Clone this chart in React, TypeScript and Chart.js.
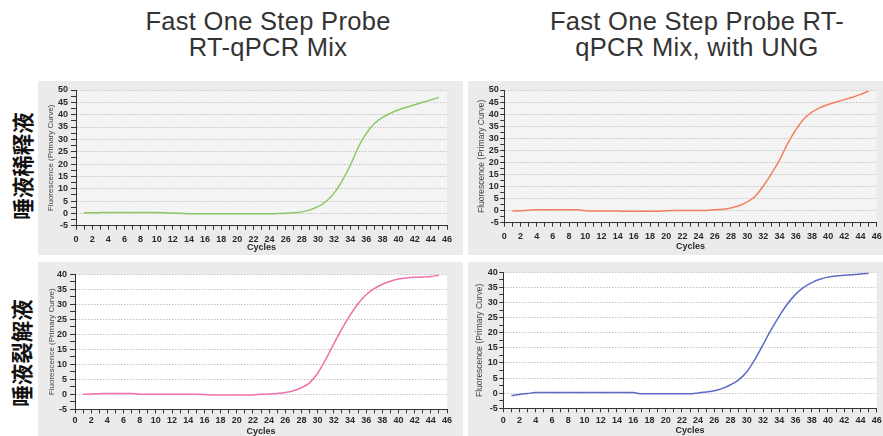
import React, { useEffect, useRef } from 'react';
import { Chart, registerables } from 'chart.js';

Chart.register(...registerables);

// ---------- data ----------
const cycles: number[] = [
  1, 2, 3, 4, 5, 6, 7, 8, 9, 10, 11, 12, 13, 14, 15, 16, 17, 18, 19, 20, 21, 22, 23,
  24, 25, 26, 27, 28, 29, 30, 31, 32, 33, 34, 35, 36, 37, 38, 39, 40, 41, 42, 43, 44, 45,
];

// Saliva dilution, standard mix (green)
const dilutionStandard: number[] = [
  0.2, 0.2, 0.3, 0.4, 0.4, 0.4, 0.4, 0.4, 0.4, 0.3, 0.2, 0.1, 0.0, -0.2, -0.2, -0.2, -0.2,
  -0.2, -0.2, -0.2, -0.2, -0.2, -0.2, -0.2, -0.1, 0.0, 0.2, 0.6, 1.4, 2.7, 4.8, 8.2, 13.2,
  19.4, 26.8, 32.4, 36.4, 38.9, 40.6, 42.0, 43.0, 44.0, 45.0, 46.0, 47.0,
];

// Saliva dilution, mix with UNG (orange)
const dilutionUNG: number[] = [
  -0.2, 0.0, 0.2, 0.4, 0.4, 0.4, 0.4, 0.4, 0.4, 0.0, -0.1, -0.1, -0.1, -0.2, -0.3, -0.3,
  -0.3, -0.3, -0.3, 0.0, 0.1, 0.1, 0.1, 0.1, 0.1, 0.4, 0.6, 1.1, 2.0, 3.6, 6.0, 10.2, 15.3,
  21.0, 27.8, 33.5, 38.0, 40.8, 42.7, 44.0, 45.0, 46.0, 47.0, 48.2, 49.5,
];

// Saliva lysis, standard mix (pink)
const lysisStandard: number[] = [
  0.0, 0.1, 0.2, 0.3, 0.3, 0.3, 0.3, 0.0, 0.0, 0.0, 0.0, 0.0, 0.0, 0.0, 0.0, -0.1, -0.2,
  -0.2, -0.2, -0.2, -0.2, -0.2, 0.0, 0.1, 0.3, 0.6, 1.2, 2.2, 3.8, 7.0, 11.6, 16.8, 21.8,
  26.3, 30.2, 33.2, 35.2, 36.7, 37.7, 38.4, 38.8, 39.0, 39.1, 39.3, 39.7,
];

// Saliva lysis, mix with UNG (blue)
const lysisUNG: number[] = [
  -0.8, -0.4, -0.1, 0.2, 0.2, 0.2, 0.2, 0.2, 0.2, 0.2, 0.2, 0.2, 0.2, 0.2, 0.2, 0.2, -0.2,
  -0.2, -0.2, -0.2, -0.2, -0.2, -0.2, 0.1, 0.4, 0.8, 1.6, 2.8, 4.4, 7.1, 11.2, 16.1, 21.0,
  25.5, 29.5, 32.7, 35.0, 36.6, 37.7, 38.4, 38.8, 39.0, 39.2, 39.4, 39.7,
];

const columnTitles: string[][] = [
  ['Fast One Step Probe', 'RT-qPCR Mix'],
  ['Fast One Step Probe RT-', 'qPCR Mix, with UNG'],
];
const rowLabels: string[] = ['唾液稀释液', '唾液裂解液'];
const xAxisTitle = 'Cycles';
const yAxisTitle = 'Fluorescence (Primary Curve)';
const xRange = [0, 46];
const yMin = -5;
const yMaxTop = 50;
const yMaxBottom = 40;

// ---------- layout ----------
type PanelSpec = {
  left: number; top: number; width: number; height: number;
  yWidth: number; padTop: number; padRight: number; xHeight: number;
  yMax: number; values: number[]; color: string; plotBg: string;
  yTitlePad: number; yTitleSize: number; yTickLen: number; yTickPad: number;
  xTickPad: number; xTitlePad: number;
};

const panels: PanelSpec[] = [
  {
    left: 38, top: 81, width: 425, height: 174, yWidth: 38, padTop: 9, padRight: 16, xHeight: 29.3,
    yMax: yMaxTop, values: dilutionStandard, color: '#8cc862', plotBg: '#f4f4f4',
    yTitlePad: 8.4, yTitleSize: 8, yTickLen: 5, yTickPad: 3, xTickPad: 4, xTitlePad: 1.6,
  },
  {
    left: 468, top: 81, width: 415, height: 174, yWidth: 36.3, padTop: 9, padRight: 6.3, xHeight: 32.3,
    yMax: yMaxTop, values: dilutionUNG, color: '#f2805f', plotBg: '#f4f4f4',
    yTitlePad: 9, yTitleSize: 8.5, yTickLen: 4, yTickPad: 1.5, xTickPad: 4.6, xTitlePad: 2.9,
  },
  {
    left: 38, top: 262, width: 425, height: 174, yWidth: 37, padTop: 12.3, padRight: 16, xHeight: 26.7,
    yMax: yMaxBottom, values: lysisStandard, color: '#ef70aa', plotBg: '#ffffff',
    yTitlePad: 8.9, yTitleSize: 8, yTickLen: 5, yTickPad: 3, xTickPad: 2, xTitlePad: -1.1,
  },
  {
    left: 468, top: 262, width: 415, height: 174, yWidth: 35.3, padTop: 10.3, padRight: 6.3, xHeight: 27.7,
    yMax: yMaxBottom, values: lysisUNG, color: '#5b6cc4', plotBg: '#ffffff',
    yTitlePad: 6.9, yTitleSize: 8.5, yTickLen: 4, yTickPad: 1.5, xTickPad: 3, xTitlePad: -0.4,
  },
];

const FONT = "'Liberation Sans', Arial, sans-serif";

function Panel({ spec }: { spec: PanelSpec }) {
  const ref = useRef<HTMLCanvasElement>(null);
  useEffect(() => {
    const s = spec;
    const plotBgPlugin = {
      id: 'plotBg',
      beforeDraw(chart: any) {
        const { ctx, chartArea: a } = chart;
        ctx.save();
        ctx.fillStyle = s.plotBg;
        ctx.fillRect(a.left, a.top, a.right - a.left, a.bottom - a.top);
        ctx.restore();
      },
    };
    const tickFont = { family: FONT, size: 9, weight: 'bold' as const, lineHeight: 1.2 };
    const chart = new Chart(ref.current as HTMLCanvasElement, {
      type: 'line',
      data: {
        datasets: [
          {
            data: cycles.map((c, i) => ({ x: c, y: s.values[i] })),
            borderColor: s.color,
            borderWidth: 1.5,
            pointRadius: 0,
            cubicInterpolationMode: 'monotone',
            fill: false,
          },
        ],
      },
      options: {
        animation: false,
        responsive: false,
        maintainAspectRatio: false,
        devicePixelRatio: 1,
        events: [],
        layout: { padding: { left: 0, top: s.padTop, right: s.padRight, bottom: 0 } },
        plugins: { legend: { display: false }, tooltip: { enabled: false } },
        scales: {
          x: {
            type: 'linear',
            min: xRange[0],
            max: xRange[1],
            ticks: {
              stepSize: 1,
              autoSkip: false,
              maxRotation: 0,
              minRotation: 0,
              padding: s.xTickPad,
              color: '#2a2a2a',
              font: tickFont,
              callback: (v: any) => (Number(v) % 2 === 0 ? String(v) : ''),
            },
            grid: {
              drawOnChartArea: false,
              drawTicks: true,
              tickLength: 4,
              tickColor: '#333333',
              tickWidth: 1,
            },
            border: { display: true, color: '#333333', width: 1 },
            title: {
              display: true,
              text: xAxisTitle,
              color: '#2a2a2a',
              font: { family: FONT, size: 9, weight: 'bold', lineHeight: 1.2 },
              padding: { top: 0, bottom: s.xTitlePad },
            },
            afterFit: (scale: any) => {
              scale.height = s.xHeight;
              scale.paddingLeft = 0;
              scale.paddingRight = 0;
            },
          },
          y: {
            type: 'linear',
            min: yMin,
            max: s.yMax,
            ticks: {
              stepSize: 2.5,
              autoSkip: false,
              padding: s.yTickPad,
              color: '#2a2a2a',
              font: tickFont,
              callback: (v: any) => (Number(v) % 5 === 0 ? String(v) : ''),
            },
            grid: {
              drawOnChartArea: true,
              drawTicks: true,
              tickLength: s.yTickLen,
              color: (ctx: any) =>
                ctx.tick && ctx.tick.value % 5 === 0 && ctx.tick.value > yMin ? '#c4c4c4' : 'rgba(0,0,0,0)',
              tickColor: '#333333',
              lineWidth: 1,
            },
            border: { display: true, color: '#333333', width: 1, dash: [1.5, 1.5] },
            title: {
              display: true,
              text: yAxisTitle,
              color: '#444444',
              font: { family: FONT, size: s.yTitleSize, weight: 'normal', lineHeight: 1.2 },
              padding: { top: s.yTitlePad, bottom: 0 },
            },
            afterFit: (scale: any) => {
              scale.width = s.yWidth;
              scale.paddingTop = 0;
              scale.paddingBottom = 0;
            },
          },
        },
      } as any,
      plugins: [plotBgPlugin],
    });
    return () => chart.destroy();
  }, [spec]);

  return (
    <div
      style={{
        position: 'absolute',
        left: spec.left,
        top: spec.top,
        width: spec.width,
        height: spec.height,
        background: '#ebebeb',
      }}
    >
      <canvas
        ref={ref}
        width={spec.width}
        height={spec.height}
        style={{ display: 'block', width: spec.width, height: spec.height }}
      />
    </div>
  );
}

const titleCenters = [268, 697];
const rowCenters = [
  { x: 21.5, y: 165.5 },
  { x: 20.5, y: 352.5 },
];

export default function App() {
  return (
    <div
      style={{
        position: 'absolute',
        left: 0,
        top: 0,
        width: 883,
        height: 436,
        background: '#ffffff',
        overflow: 'hidden',
      }}
    >
      {columnTitles.map((lines, i) => (
        <div
          key={'t' + i}
          style={{
            position: 'absolute',
            left: titleCenters[i] - 200,
            top: 8,
            width: 400,
            textAlign: 'center',
            fontFamily: FONT,
            fontSize: 25.5,
            letterSpacing: '0.3px',
            lineHeight: '26px',
            color: '#333333',
            whiteSpace: 'nowrap',
          }}
        >
          {lines.map((l, j) => (
            <div key={j}>{l}</div>
          ))}
        </div>
      ))}
      {rowLabels.map((label, i) => (
        <div
          key={'r' + i}
          style={{
            position: 'absolute',
            left: rowCenters[i].x - 70,
            top: rowCenters[i].y - 15,
            width: 140,
            height: 30,
            lineHeight: '30px',
            textAlign: 'center',
            fontFamily: "'Noto Sans CJK SC', sans-serif",
            fontSize: 21.5,
            fontWeight: 700,
            color: '#111111',
            whiteSpace: 'nowrap',
            transform: 'rotate(-90deg)',
          }}
        >
          {label}
        </div>
      ))}
      {panels.map((p, i) => (
        <Panel key={i} spec={p} />
      ))}
    </div>
  );
}
